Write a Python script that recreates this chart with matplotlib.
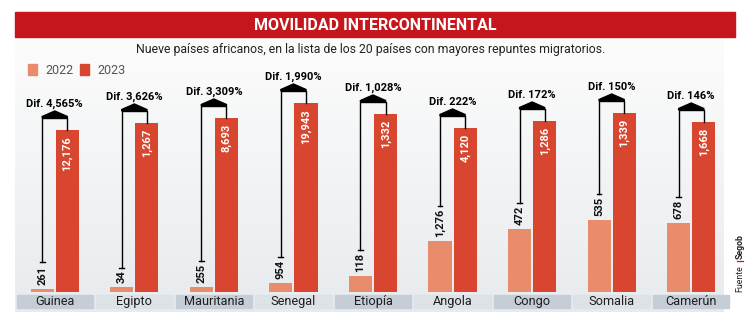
import numpy as np
import matplotlib.pyplot as plt
from matplotlib.colors import LinearSegmentedColormap
from matplotlib.patches import Rectangle, Polygon

countries = ["Guinea", "Egipto", "Mauritania", "Senegal", "Etiopía",
             "Angola", "Congo", "Somalia", "Camerún"]
v2022 = [261, 34, 255, 954, 118, 1276, 472, 535, 678]
v2023 = [12176, 1267, 8693, 19943, 1332, 4120, 1286, 1339, 1668]
lab2022 = ["261", "34", "255", "954", "118", "1,276", "472", "535", "678"]
lab2023 = ["12,176", "1,267", "8,693", "19,943", "1,332", "4,120", "1,286", "1,339", "1,668"]
dif = ["4,565%", "3,626%", "3,309%", "1,990%", "1,028%", "222%", "172%", "150%", "146%"]

# the infographic draws each country's 2023 bar at its own height (not to scale)
shown_2023 = [162, 169, 174, 189, 178, 164, 171, 179, 170]

c22 = "#e98c6c"
c23 = "#d8462f"
red = "#c4161c"
plt.rcParams["font.family"] = ["Roboto", "DejaVu Sans"]

W, H = 750, 321
fig = plt.figure(figsize=(W / 100, H / 100), dpi=100)

# background layer in pixel coordinates
bg = fig.add_axes([0, 0, 1, 1])
bg.set_xlim(0, W)
bg.set_ylim(H, 0)
bg.axis("off")
cmap = LinearSegmentedColormap.from_list("g", ["#fcfcfc", "#e8ebee"])
grad = np.linspace(0, 1, 100).reshape(-1, 1)
bg.imshow(grad, cmap=cmap, extent=(15, 724, 312, 38), origin="upper", aspect="auto")
bg.add_patch(Rectangle((15, 12), 720, 25, color=red))
bg.text(375, 25, "MOVILIDAD INTERCONTINENTAL", color="white", fontsize=11.5,
        fontweight="bold", ha="center", va="center")
bg.text(371, 49, "Nueve países africanos, en la lista de los 20 países con mayores repuntes migratorios.",
        color="#222222", fontsize=8.8, ha="center", va="center")
bg.add_patch(Rectangle((28, 64), 9, 11, color=c22))
bg.text(45, 70, "2022", color="#555555", fontsize=9, va="center")
bg.add_patch(Rectangle((80, 64), 9, 11, color=c23))
bg.text(97, 70, "2023", color="#555555", fontsize=9, va="center")
bg.text(740, 292, "Fuente", rotation=90, fontsize=6.3, ha="center", va="bottom", color="#222222")
bg.plot([737, 743], [261, 261], color=red, lw=0.9)
bg.text(740, 259, "Segob", rotation=90, fontsize=6.3, fontweight="bold", ha="center",
        va="bottom", color="#222222")

# bar axes: y units are pixels above the baseline
ax = fig.add_axes([15 / W, (H - 292) / H, 716 / W, 200 / H])
ax.set_xlim(-0.5, len(countries) - 0.5)
ax.set_ylim(0, 200)
ax.axis("off")

x = np.arange(len(countries))
h23 = np.array(shown_2023, dtype=float)
h22 = np.array(v2022) / np.array(v2023) * h23
off = 0.158
bw = 0.29
ax.bar(x - off, h22, bw, color=c22)
ax.bar(x + off, h23, bw, color=c23)

fig.canvas.draw()
rend = fig.canvas.get_renderer()
inv = ax.transData.inverted()

for i in range(len(countries)):
    shade = "#c5ced6" if i % 2 == 0 else "#dde2e6"
    ax.add_patch(Rectangle((i - 0.48, -16), 0.96, 13, color=shade, clip_on=False))
    ax.text(i, -9.5, countries[i], ha="center", va="center", fontsize=9.2, color="#1e1e1e")

    ax.text(i + off, h23[i] - 6, lab2023[i], rotation=90, ha="center", va="top",
            fontsize=8, fontweight="bold", color="white")
    t = ax.text(i - off, h22[i] + 4, lab2022[i], rotation=90, ha="center", va="bottom",
                fontsize=8, fontweight="bold", color="#111111")
    bb = t.get_window_extent(rend)
    top = inv.transform((bb.x1, bb.y1))[1]
    y0 = top + 3
    yb = h23[i] + 12
    xl, xr = i - off, i + off
    ax.plot([xl, xl, xr, xr], [y0, yb, yb, h23[i]], color="black", lw=1, clip_on=False)
    ax.plot([xl - 0.03, xl + 0.03], [y0, y0], color="black", lw=1, clip_on=False)
    ax.add_patch(Polygon([[xl, yb], [xl, yb + 1.5], [i, yb + 7], [xr, yb + 1.5], [xr, yb]],
                         closed=True, color="black", clip_on=False))
    ax.text(i, yb + 9, "Dif. " + dif[i], ha="center", va="bottom", fontsize=8,
            fontweight="bold", color="black")

fig.savefig("out.png", dpi=100)
